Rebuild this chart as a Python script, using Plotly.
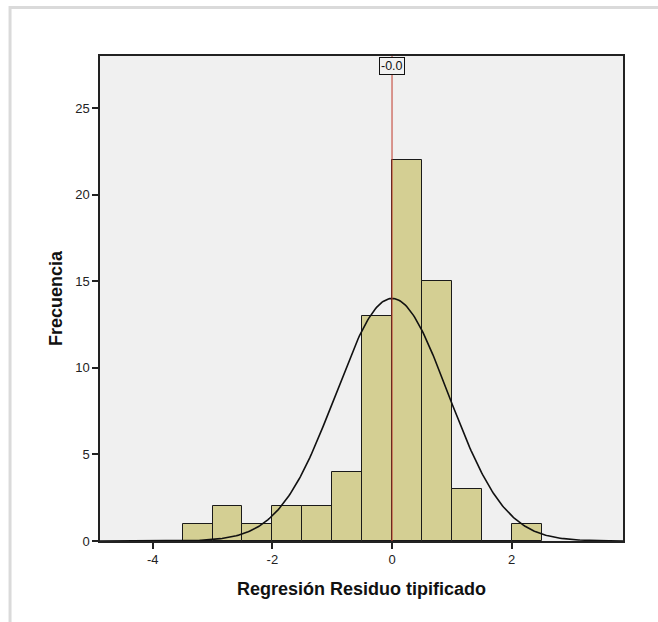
import numpy as np
import plotly.graph_objects as go

# Histogram of standardized regression residuals (bin width 0.5)
bin_starts = [-3.5, -3.0, -2.5, -2.0, -1.5, -1.0, -0.5, 0.0, 0.5, 1.0, 1.5, 2.0]
counts = [1, 2, 1, 2, 2, 4, 13, 22, 15, 3, 0, 1]
BIN_WIDTH = 0.5

# Normal curve parameters
MEAN = 0.0
SD = 0.94
N = sum(counts)
mean_label = "-0.0"

x_ticks = [-4, -2, 0, 2]
x_tick_text = ["-4", "-2", "0", "2"]
y_ticks = [0, 5, 10, 15, 20, 25]
x_range = [-4.88, 3.86]
y_range = [0, 28]

centers = np.array(bin_starts) + BIN_WIDTH / 2
xs = np.linspace(x_range[0], x_range[1], 400)
ys = N * BIN_WIDTH * np.exp(-0.5 * ((xs - MEAN) / SD) ** 2) / (SD * np.sqrt(2 * np.pi))

FONT = "Liberation Sans, Arial"

fig = go.Figure()
fig.add_trace(go.Bar(
    x=centers, y=counts, width=BIN_WIDTH,
    marker=dict(color="#d4cf93", line=dict(color="#1a1a1a", width=1)),
    hoverinfo="skip",
))
fig.add_trace(go.Scatter(
    x=xs, y=ys, mode="lines",
    line=dict(color="#111111", width=1.6),
    hoverinfo="skip",
))

# Mean reference line and its label
fig.add_shape(type="line", xref="x", yref="paper", x0=MEAN, x1=MEAN, y0=0, y1=1,
              line=dict(color="#c0392b", width=1), layer="above")
fig.add_annotation(x=MEAN, y=1, xref="x", yref="paper", yanchor="top", yshift=-1,
                   text=mean_label, showarrow=False,
                   font=dict(family=FONT, size=12.5, color="#111"),
                   bgcolor="#f2f2f2", bordercolor="#111", borderwidth=1, borderpad=1)

# Light outer frame around the chart
fig.add_shape(type="rect", xref="paper", yref="paper",
              x0=-0.172, x1=1.08, y0=-0.2, y1=1.1,
              line=dict(color="#dadada", width=3), layer="below")

axis_common = dict(
    showgrid=False, zeroline=False, showline=True, mirror=True,
    linecolor="#222222", linewidth=1.5, ticks="outside", ticklen=6,
    tickcolor="#222222", tickwidth=1.5,
    tickfont=dict(family=FONT, size=13, color="#222222"),
)

fig.update_layout(
    width=658, height=622,
    margin=dict(l=100, r=35, t=56, b=81),
    paper_bgcolor="white", plot_bgcolor="#f0f0f0",
    showlegend=False, bargap=0,
    xaxis=dict(range=x_range, tickvals=x_ticks, ticktext=x_tick_text,
               title=dict(text="<b>Regresión Residuo tipificado</b>", standoff=16,
                          font=dict(family=FONT, size=18, color="#111")),
               **axis_common),
    yaxis=dict(range=y_range, tickvals=y_ticks,
               title=dict(text="<b>Frecuencia</b>", standoff=8,
                          font=dict(family=FONT, size=18, color="#111")),
               **axis_common),
)

fig.write_html("out.html")
